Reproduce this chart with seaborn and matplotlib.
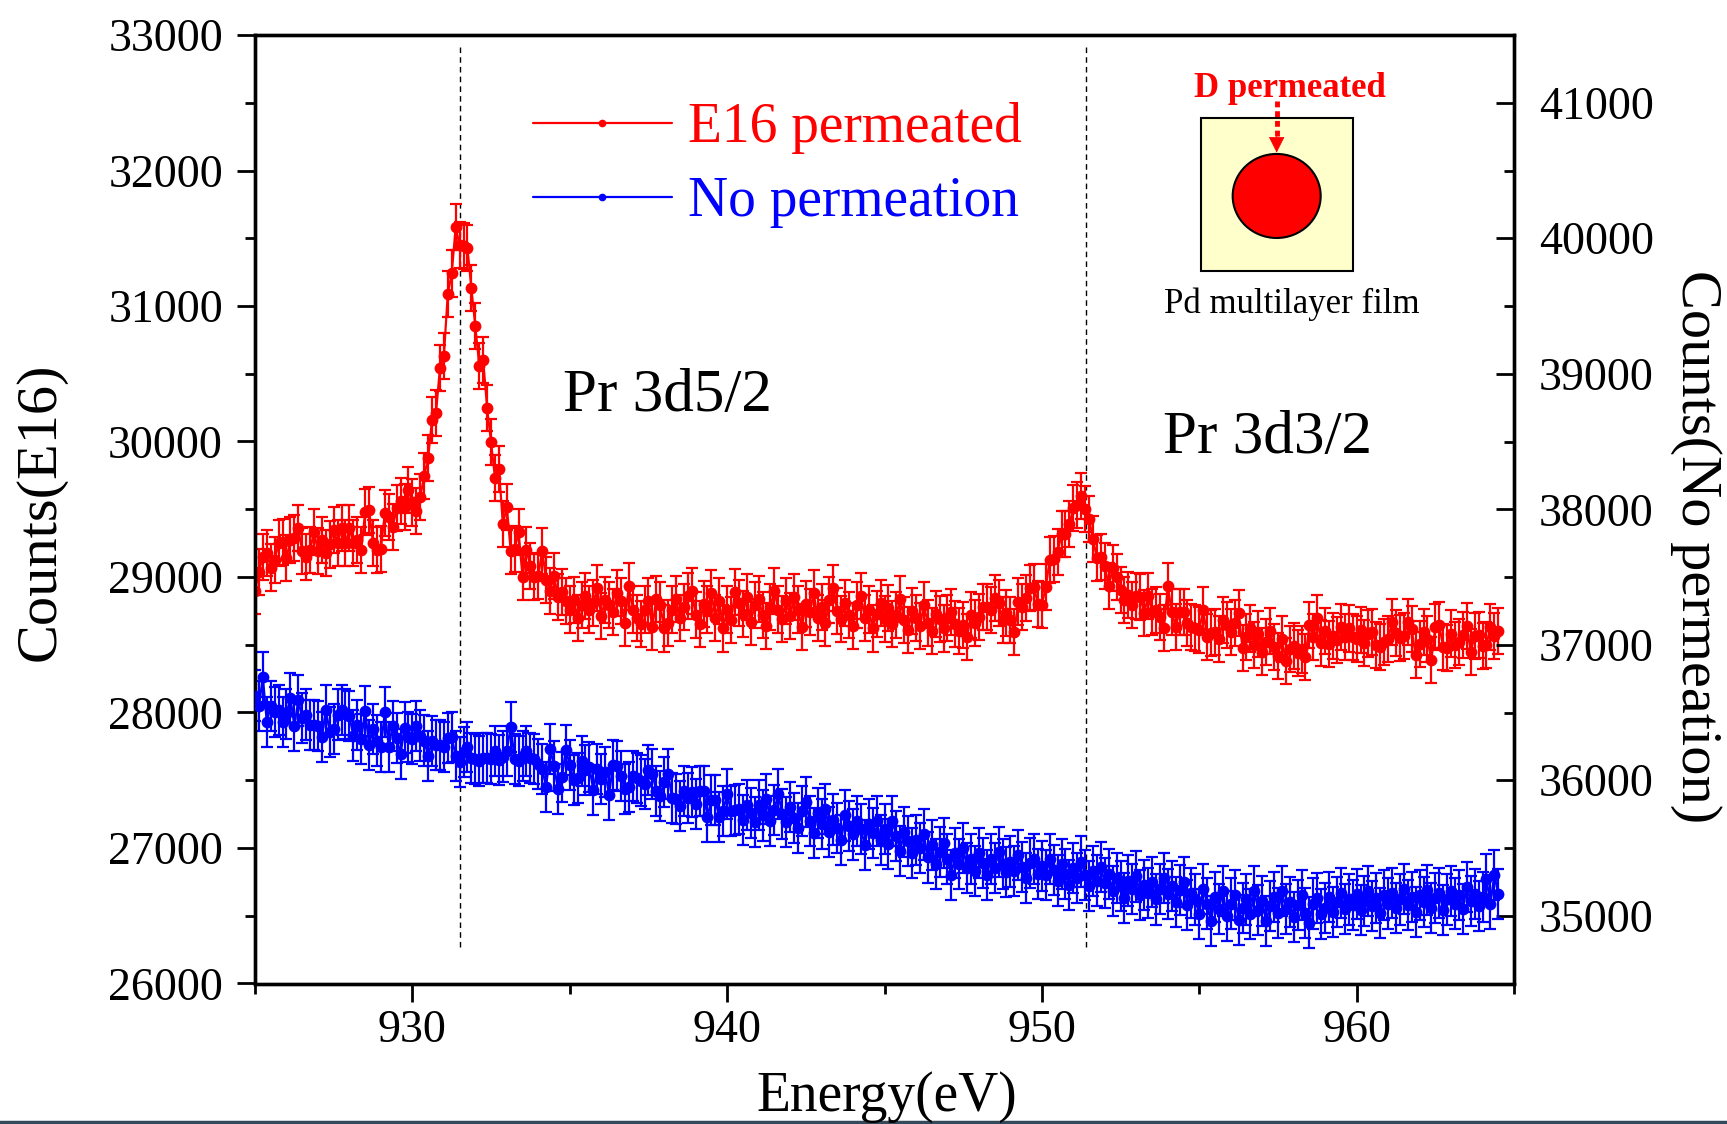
import numpy as np
import matplotlib
matplotlib.use("Agg")
import matplotlib.pyplot as plt
import seaborn as sns
from matplotlib.patches import Rectangle, Ellipse
from matplotlib.lines import Line2D
from matplotlib.ticker import MultipleLocator

# ---------------- data ----------------
E_START = 925.0     # eV, first channel
E_STEP = 0.125      # eV, channel spacing

e16_counts = [
    28900, 29040, 29150, 29180, 29070, 29125, 29250, 29260,
    29140, 29270, 29290, 29360, 29190, 29150, 29200, 29330,
    29190, 29270, 29180, 29240, 29350, 29250, 29360, 29250,
    29360, 29250, 29270, 29200, 29480, 29495, 29250, 29200,
    29210, 29470, 29440, 29370, 29510, 29560, 29520, 29640,
    29550, 29490, 29590, 29745, 29880, 30160, 30210, 30540,
    30630, 31090, 31240, 31580, 31450, 31440, 31425, 31130,
    30850, 30560, 30600, 30245, 29995, 29730, 29800, 29390,
    29520, 29190, 29205, 29330, 29000, 29200, 29080, 29000,
    29010, 29195, 28980, 28900, 29010, 28850, 28890, 28820,
    28760, 28830, 28700, 28790, 28860, 28760, 28810, 28920,
    28710, 28830, 28790, 28740, 28880, 28820, 28660, 28930,
    28760, 28700, 28650, 28760, 28820, 28630, 28840, 28790,
    28620, 28660, 28760, 28840, 28700, 28780, 28860, 28900,
    28720, 28650, 28800, 28760, 28880, 28700, 28820, 28620,
    28760, 28680, 28890, 28810, 28730, 28850, 28670, 28790,
    28840, 28720, 28640, 28780, 28900, 28760, 28690, 28820,
    28710, 28850, 28760, 28630, 28800, 28740, 28880, 28700,
    28780, 28660, 28830, 28920, 28750, 28690, 28810, 28720,
    28640, 28790, 28860, 28700, 28760, 28620, 28730, 28810,
    28690, 28770, 28650, 28720, 28840, 28680, 28610, 28750,
    28700, 28640, 28790, 28660, 28600, 28730, 28690, 28620,
    28700, 28740, 28650, 28600, 28646, 28560, 28720, 28660,
    28707, 28781, 28781, 28756, 28843, 28806, 28683, 28732,
    28683, 28597, 28819, 28781, 28843, 28917, 28929, 28800,
    28794, 28929, 29124, 29130, 29187, 29317, 29317, 29391,
    29507, 29531, 29598, 29500, 29426, 29279, 29139, 29150,
    29081, 28933, 29064, 29002, 28904, 28830, 28867, 28794,
    28860, 28855, 28732, 28860, 28745, 28756, 28707, 28622,
    28933, 28745, 28634, 28745, 28745, 28663, 28634, 28622,
    28609, 28756, 28560, 28584, 28597, 28540, 28683, 28646,
    28597, 28658, 28732, 28474, 28560, 28620, 28500, 28580,
    28450, 28520, 28600, 28480, 28420, 28540, 28380, 28470,
    28490, 28440, 28465, 28412, 28645, 28554, 28695, 28510,
    28603, 28505, 28564, 28535, 28633, 28559, 28620, 28559,
    28540, 28608, 28515, 28583, 28596, 28498, 28485, 28522,
    28540, 28670, 28589, 28547, 28564, 28670, 28613, 28424,
    28505, 28596, 28540, 28387, 28633, 28645, 28485, 28473,
    28583, 28498, 28522, 28571, 28638, 28449, 28564, 28571,
    28490, 28498, 28633, 28564, 28600,
]

noperm_counts = [
    36625, 36551, 36760, 36428, 36551, 36502, 36517, 36428,
    36490, 36608, 36403, 36589, 36460, 36485, 36410, 36410,
    36403, 36317, 36519, 36354, 36379, 36485, 36517, 36490,
    36471, 36330, 36410, 36305, 36512, 36263, 36379, 36293,
    36248, 36502, 36248, 36403, 36311, 36194, 36389, 36317,
    36305, 36403, 36330, 36293, 36181, 36288, 36263, 36263,
    36243, 36311, 36317, 36181, 36132, 36210, 36243, 36164,
    36157, 36140, 36164, 36164, 36157, 36219, 36150, 36175,
    36219, 36395, 36157, 36145, 36181, 36219, 36164, 36157,
    36120, 36085, 35948, 36231, 36108, 35935, 36022, 36224,
    36115, 36002, 36017, 36145, 36076, 36095, 35928, 36083,
    36009, 36058, 35894, 36115, 36108, 36034, 35935, 35948,
    36034, 36017, 35998, 35972, 36076, 36046, 35923, 35886,
    35985, 36046, 35871, 35863, 35813, 35923, 35871, 35911,
    35825, 35923, 35923, 35731, 35854, 35854, 35726, 35775,
    35898, 35770, 35780, 35788, 35707, 35820, 35760, 35690,
    35820, 35740, 35860, 35700, 35780, 35900, 35750, 35690,
    35800, 35720, 35650, 35770, 35840, 35700, 35610, 35760,
    35680, 35790, 35620, 35710, 35650, 35560, 35740, 35660,
    35600, 35700, 35640, 35520, 35680, 35610, 35700, 35560,
    35640, 35530, 35700, 35590, 35480, 35620, 35550, 35460,
    35560, 35500, 35600, 35430, 35520, 35380, 35470, 35540,
    35420, 35300, 35460, 35380, 35500, 35350, 35420, 35330,
    35460, 35390, 35300, 35420, 35350, 35470, 35380, 35320,
    35400, 35330, 35450, 35360, 35280, 35390, 35420, 35310,
    35370, 35300, 35420, 35340, 35260, 35380, 35310, 35230,
    35350, 35280, 35400, 35300, 35220, 35330, 35260, 35360,
    35240, 35310, 35180, 35280, 35220, 35130, 35260, 35200,
    35290, 35150, 35230, 35170, 35250, 35120, 35200, 35280,
    35160, 35220, 35100, 35190, 35250, 35080, 35170, 35120,
    35010, 35200, 35090, 34960, 35140, 35050, 35180, 35000,
    35090, 35150, 34970, 35060, 35120, 35010, 35180, 35040,
    35110, 34960, 35070, 35140, 35020, 35180, 35050, 35100,
    34990, 35080, 35150, 35020, 34950, 35090, 35130, 35010,
    35060, 35140, 35030, 35100, 35170, 35050, 35120, 35080,
    35160, 35040, 35110, 35180, 35070, 35130, 35020, 35150,
    35090, 35170, 35060, 35120, 35200, 35080, 35140, 35030,
    35150, 35100, 35190, 35060, 35130, 35170, 35040, 35120,
    35180, 35090, 35150, 35050, 35210, 35110, 35160, 35070,
    35140, 35270, 35090, 35300, 35160,
]

E16_ERR = 170        # counts, error bar half-height (E16)
NOPERM_ERR = 185     # counts, error bar half-height (No permeation)

peak_positions = [931.5, 951.4]
peak_labels = ["Pr 3d5/2", "Pr 3d3/2"]
series_labels = ["E16 permeated", "No permeation"]

energy = E_START + E_STEP * np.arange(len(e16_counts))
energy2 = E_START + E_STEP * np.arange(len(noperm_counts))

# ---------------- style ----------------
sns.set_theme(style="ticks")
plt.rcParams["font.family"] = ["Liberation Serif", "DejaVu Serif"]
for k in ["text.color", "axes.labelcolor", "xtick.color", "ytick.color", "axes.edgecolor"]:
    plt.rcParams[k] = "black"

W, H = 1727, 1124
fig = plt.figure(figsize=(W / 100, H / 100), dpi=100)
L, R, T, B = 255, 1514, 35, 983.5
ax = fig.add_axes([L / W, 1 - B / H, (R - L) / W, (B - T) / H])
ax2 = ax.twinx()

RED = "#FF0000"
BLUE = "#0000FF"

# E16 (left axis)
ax.errorbar(energy, e16_counts, yerr=E16_ERR, fmt="none", ecolor=RED,
            elinewidth=1.6, capsize=4.2, capthick=1.6, zorder=2)
sns.lineplot(x=energy, y=e16_counts, ax=ax, color=RED, marker="o",
             markersize=8.5, markeredgewidth=0, linewidth=1.6, sort=False,
             legend=False, zorder=3)

# No permeation (right axis)
ax2.errorbar(energy2, noperm_counts, yerr=NOPERM_ERR, fmt="none", ecolor=BLUE,
             elinewidth=1.6, capsize=4.2, capthick=1.6, zorder=2)
sns.lineplot(x=energy2, y=noperm_counts, ax=ax2, color=BLUE, marker="o",
             markersize=8.5, markeredgewidth=0, linewidth=1.6, sort=False,
             legend=False, zorder=3)

# peak markers
ax.vlines(peak_positions, 26270, 32935, colors="black",
          linestyles=(0, (4, 3)), linewidth=1.0, zorder=1)

# axes limits / ticks
ax.set_xlim(925, 965)
ax.set_ylim(26000, 33000)
ax2.set_ylim(34500, 41500)
ax.set_xticks([930, 940, 950, 960])
ax.xaxis.set_minor_locator(MultipleLocator(5))
ax.set_yticks(np.arange(26000, 33001, 1000))
ax.yaxis.set_minor_locator(MultipleLocator(500))
ax2.set_yticks(np.arange(35000, 41001, 1000))
ax2.yaxis.set_minor_locator(MultipleLocator(500))

ax.set_xlabel("")
ax.set_ylabel("")
ax2.set_ylabel("")

TICKFS = 33
ax.tick_params(axis="x", which="major", direction="out", length=13, width=2,
               labelsize=TICKFS, pad=6, top=False, colors="black")
ax.tick_params(axis="x", which="minor", direction="out", length=7, width=2, top=False)
ax.tick_params(axis="y", which="major", direction="out", length=13, width=2,
               labelsize=TICKFS, pad=10, right=False, colors="black")
ax.tick_params(axis="y", which="minor", direction="out", length=7, width=2, right=False)
ax2.tick_params(axis="y", which="major", direction="in", length=13, width=2,
                labelsize=TICKFS, pad=18, colors="black")
ax2.tick_params(axis="y", which="minor", direction="in", length=7, width=2)

for a in (ax, ax2):
    for s in a.spines.values():
        s.set_linewidth(2.4)
        s.set_color("black")

# axis titles
LABFS = 40
fig.text(887 / W, 1 - 1111 / H, "Energy(eV)", ha="center", va="baseline",
         fontsize=LABFS, color="black")
fig.text(41 / W, 1 - 512 / H, "Counts(E16)", rotation=90, ha="center", va="center",
         fontsize=42, color="black")
fig.text(1696 / W, 1 - 547 / H, "Counts(No permeation)", rotation=270, ha="center",
         va="center", fontsize=42, color="black")

# legend
handles = [Line2D([], [], color=RED, marker="o", markersize=4.5, lw=1.6),
           Line2D([], [], color=BLUE, marker="o", markersize=4.5, lw=1.6)]
leg = ax.legend(handles, series_labels, loc="upper left", bbox_to_anchor=(0.181, 0.982),
                frameon=False, fontsize=LABFS, handlelength=2.5, handletextpad=0.3,
                labelspacing=0.4)
for txt, c in zip(leg.get_texts(), [RED, BLUE]):
    txt.set_color(c)

# peak annotations
ax.text(934.8, 30336, peak_labels[0], fontsize=44, ha="left", va="center", color="black")
ax.text(953.86, 30026, peak_labels[1], fontsize=44, ha="left", va="center", color="black")

# inset sketch (axes fraction)
ax.add_patch(Rectangle((0.751, 0.7512), 0.121, 0.1613, transform=ax.transAxes,
                       facecolor="#FFFFCC", edgecolor="black", lw=1.5, zorder=5))
ax.add_patch(Ellipse((0.8115, 0.8303), 0.0699, 0.0886, transform=ax.transAxes,
                     facecolor=RED, edgecolor="black", lw=1.5, zorder=6))
ax.plot([0.8115, 0.8115], [0.930, 0.893], transform=ax.transAxes, color=RED,
        lw=3.5, linestyle=(0, (1.2, 0.8)), zorder=7, solid_capstyle="butt")
ax.annotate("", xy=(0.8115, 0.876), xytext=(0.8115, 0.896), xycoords="axes fraction",
            arrowprops=dict(arrowstyle="-|>", color=RED, lw=0.5, mutation_scale=26,
                            shrinkA=0, shrinkB=0), zorder=7)
ax.text(0.822, 0.944, "D permeated", transform=ax.transAxes, ha="center", va="center",
        fontsize=25, fontweight="bold", color=RED, zorder=7)
ax.text(0.8237, 0.7164, "Pd multilayer film", transform=ax.transAxes, ha="center",
        va="center", fontsize=25, color="black", zorder=7)

# bottom border line of the picture
fig.add_artist(Line2D([0, 1], [0.0015, 0.0015], transform=fig.transFigure,
                      color="#34495a", lw=2.5))

fig.savefig("out.png", dpi=100)
